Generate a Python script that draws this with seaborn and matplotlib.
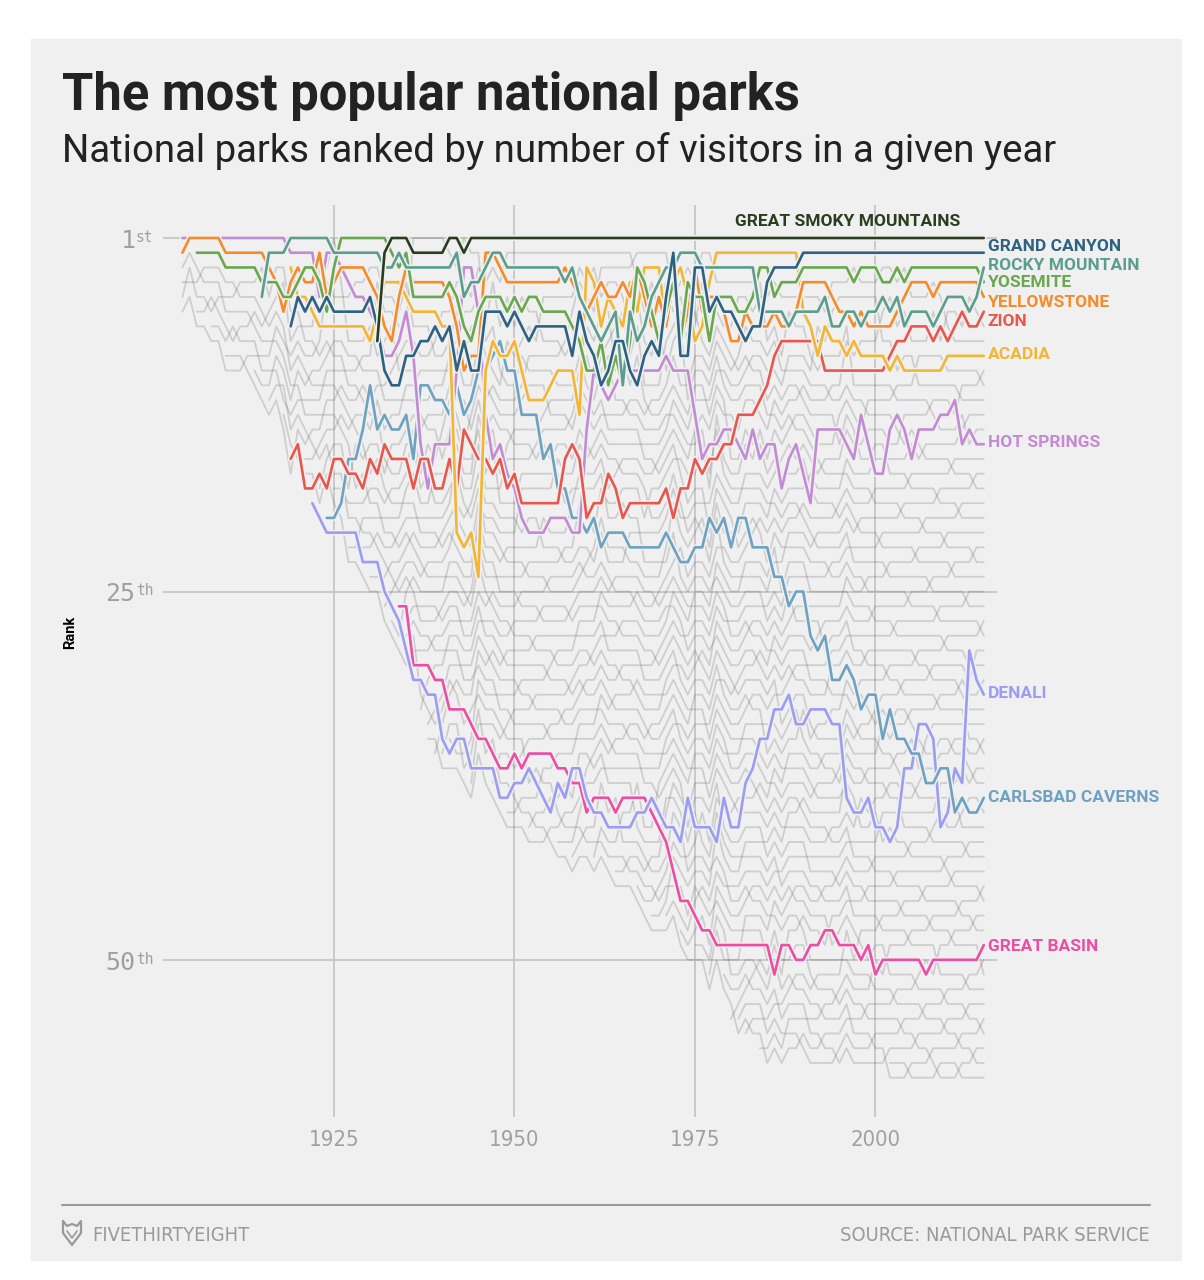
import matplotlib
matplotlib.use("Agg")
import matplotlib.pyplot as plt
import matplotlib.patheffects as pe
import matplotlib.transforms as mtransforms
from matplotlib import font_manager
from matplotlib.lines import Line2D
from matplotlib.patches import Rectangle
import pandas as pd
import seaborn as sns

FIRST_YEAR = 1904
LAST_YEAR = 2015

# ranks, one value per year from the park's first year
HOT_SPRINGS_START = 1904
HOT_SPRINGS = [
    1, 1, 1, 1, 1, 1,
    1, 1, 1, 1, 1, 1, 1, 1, 1, 2,
    2, 2, 2, 5, 2, 2, 3, 4, 5, 5,
    6, 7, 9, 9, 8, 6, 9, 15, 18, 15,
    15, 15, 10, 3, 3, 6, 13, 16, 15, 17,
    18, 20, 21, 21, 21, 20, 20, 20, 21, 21,
    14, 10, 11, 12, 11, 10, 10, 10, 10, 10,
    10, 9, 10, 10, 10, 13, 16, 15, 15, 14,
    14, 15, 16, 14, 16, 15, 15, 18, 16, 15,
    17, 19, 14, 14, 14, 14, 15, 16, 13, 15,
    17, 17, 14, 13, 14, 16, 14, 14, 14, 13,
    13, 12, 15, 14, 15, 15,
]

YELLOWSTONE_START = 1904
YELLOWSTONE = [
    2, 1, 1, 1, 1, 1,
    2, 2, 2, 2, 2, 2, 3, 4, 6, 4,
    3, 4, 4, 2, 5, 4, 3, 3, 3, 3,
    4, 5, 7, 8, 5, 3, 4, 4, 4, 4,
    4, 5, 7, 10, 9, 9, 2, 2, 3, 4,
    4, 4, 4, 4, 4, 4, 4, 3, 4, 5,
    6, 5, 4, 5, 5, 4, 5, 3, 5, 7,
    5, 7, 4, 8, 6, 3, 6, 5, 5, 6,
    8, 8, 6, 7, 7, 7, 6, 7, 7, 6,
    4, 4, 4, 4, 5, 6, 6, 7, 6, 7,
    7, 7, 7, 6, 5, 4, 4, 4, 5, 4,
    4, 4, 4, 4, 4, 5,
]

YOSEMITE_START = 1906
YOSEMITE = [
    2, 2, 2, 2,
    3, 3, 3, 3, 3, 4, 4, 4, 5, 5,
    4, 3, 3, 4, 6, 3, 1, 1, 1, 1,
    1, 1, 1, 2, 3, 2, 5, 5, 5, 5,
    5, 4, 5, 7, 8, 6, 5, 5, 5, 6,
    5, 6, 5, 5, 6, 6, 6, 6, 7, 8,
    10, 10, 8, 11, 9, 11, 8, 3, 4, 6,
    8, 6, 4, 8, 4, 5, 5, 8, 5, 5,
    5, 6, 6, 5, 3, 3, 5, 4, 4, 4,
    3, 3, 3, 3, 3, 3, 3, 4, 3, 3,
    3, 4, 4, 3, 4, 3, 3, 3, 3, 3,
    3, 3, 3, 3, 3, 4,
]

ROCKY_MOUNTAIN_START = 1915
ROCKY_MOUNTAIN = [
    5, 2, 2, 2, 1,
    1, 1, 1, 1, 1, 2, 2, 2, 2, 2,
    2, 2, 3, 3, 2, 3, 3, 3, 3, 3,
    3, 3, 2, 5, 4, 4, 3, 2, 2, 3,
    3, 3, 3, 3, 3, 3, 3, 4, 3, 5,
    6, 7, 8, 7, 6, 11, 6, 8, 7, 5,
    4, 3, 3, 2, 2, 2, 3, 3, 3, 3,
    3, 3, 3, 3, 6, 6, 6, 6, 7, 6,
    6, 6, 6, 5, 7, 7, 6, 6, 7, 6,
    6, 5, 6, 5, 7, 6, 6, 6, 7, 6,
    5, 5, 5, 6, 5, 3,
]

GRAND_CANYON_START = 1919
GRAND_CANYON = [
    7,
    5, 6, 5, 6, 5, 6, 6, 6, 6, 6,
    5, 7, 10, 11, 11, 9, 9, 8, 8, 7,
    8, 7, 10, 8, 10, 10, 6, 6, 6, 7,
    6, 7, 8, 7, 7, 7, 7, 7, 9, 6,
    8, 9, 11, 10, 8, 8, 10, 11, 9, 8,
    9, 5, 2, 9, 9, 3, 3, 6, 5, 6,
    6, 7, 8, 7, 7, 4, 3, 3, 3, 3,
    2, 2, 2, 2, 2, 2, 2, 2, 2, 2,
    2, 2, 2, 2, 2, 2, 2, 2, 2, 2,
    2, 2, 2, 2, 2, 2,
]

ACADIA_START = 1919
ACADIA = [
    3,
    5, 5, 6, 7, 7, 7, 7, 7, 7, 7,
    8, 6, 4, 4, 4, 5, 6, 6, 6, 6,
    7, 7, 21, 22, 21, 24, 10, 8, 9, 9,
    8, 10, 12, 12, 12, 11, 10, 10, 10, 13,
    3, 4, 7, 5, 6, 7, 4, 6, 3, 3,
    3, 7, 4, 3, 5, 8, 7, 4, 2, 2,
    2, 2, 2, 2, 2, 2, 2, 2, 2, 2,
    6, 7, 9, 7, 8, 8, 9, 8, 9, 9,
    9, 9, 10, 9, 10, 10, 10, 10, 10, 10,
    9, 9, 9, 9, 9, 9,
]

ZION_START = 1919
ZION = [
    16,
    15, 18, 18, 17, 18, 16, 16, 17, 17, 18,
    16, 17, 15, 16, 16, 16, 18, 16, 16, 18,
    18, 16, 18, 14, 15, 16, 16, 17, 16, 18,
    17, 19, 19, 19, 19, 19, 19, 16, 15, 16,
    20, 19, 19, 17, 18, 20, 19, 19, 19, 19,
    19, 18, 20, 18, 18, 16, 17, 16, 16, 15,
    15, 13, 13, 13, 12, 11, 9, 8, 8, 8,
    8, 8, 8, 10, 10, 10, 10, 10, 10, 10,
    10, 10, 9, 8, 8, 7, 7, 7, 8, 7,
    8, 7, 6, 7, 7, 6,
]

DENALI_START = 1922
DENALI = [
    19, 20, 21, 21, 21, 21, 21, 23,
    23, 23, 25, 26, 27, 29, 31, 31, 32, 32,
    35, 36, 35, 35, 37, 37, 37, 37, 39, 39,
    38, 38, 37, 38, 39, 40, 38, 39, 37, 37,
    39, 40, 40, 41, 41, 41, 41, 40, 40, 39,
    40, 41, 41, 42, 39, 41, 41, 41, 42, 39,
    41, 41, 38, 37, 35, 35, 33, 33, 32, 34,
    34, 33, 33, 33, 34, 34, 39, 40, 40, 39,
    41, 41, 42, 41, 37, 37, 34, 34, 35, 41,
    40, 37, 38, 29, 31, 32,
]

CARLSBAD_CAVERNS_START = 1924
CARLSBAD_CAVERNS = [
    20, 20, 19, 16, 16, 14,
    11, 14, 13, 14, 14, 13, 16, 11, 11, 12,
    12, 13, 11, 13, 12, 10, 10, 9, 8, 10,
    10, 13, 13, 13, 16, 15, 18, 18, 20, 20,
    21, 20, 22, 21, 21, 21, 22, 22, 22, 22,
    22, 21, 22, 23, 23, 22, 22, 20, 21, 20,
    22, 20, 20, 22, 22, 22, 24, 24, 26, 25,
    25, 28, 29, 28, 31, 31, 30, 31, 33, 32,
    32, 35, 33, 35, 35, 36, 36, 38, 38, 37,
    37, 40, 39, 40, 40, 39,
]

GREAT_SMOKY_START = 1931
GREAT_SMOKY = [
    8, 2, 1, 1, 1, 2, 2, 2, 2,
    2, 1, 1, 2, 1, 1, 1, 1, 1, 1,
    1, 1, 1, 1, 1, 1, 1, 1, 1, 1,
    1, 1, 1, 1, 1, 1, 1, 1, 1, 1,
    1, 1, 1, 1, 1, 1, 1, 1, 1, 1,
    1, 1, 1, 1, 1, 1, 1, 1, 1, 1,
    1, 1, 1, 1, 1, 1, 1, 1, 1, 1,
    1, 1, 1, 1, 1, 1, 1, 1, 1, 1,
    1, 1, 1, 1, 1, 1,
]

GREAT_BASIN_START = 1934
GREAT_BASIN = [
    26, 26, 30, 30, 30, 31,
    31, 33, 33, 33, 34, 35, 35, 36, 37, 37,
    36, 37, 36, 36, 36, 36, 37, 37, 38, 38,
    40, 39, 39, 39, 40, 39, 39, 39, 39, 40,
    41, 42, 44, 46, 46, 47, 48, 48, 49, 49,
    49, 49, 49, 49, 49, 49, 51, 49, 49, 50,
    50, 49, 49, 48, 48, 49, 49, 49, 50, 49,
    51, 50, 50, 50, 50, 50, 50, 51, 50, 50,
    50, 50, 50, 50, 50, 49,
]

# year each of the other (grey) parks first shows up at the bottom
GRAY_START_YEARS = [
    1904, 1904, 1904, 1904, 1906, 1908, 1910, 1914, 1916, 1918,
    1921, 1923, 1925, 1927, 1929, 1930, 1932, 1933, 1935, 1935,
    1936, 1937, 1938, 1938, 1939, 1940, 1941, 1944, 1947, 1949,
    1952, 1956, 1958, 1961, 1964, 1967, 1969, 1971, 1973, 1975,
    1977, 1979, 1980, 1981, 1982, 1984, 2002,
]

# neighbouring grey parks that trade places in a given year (position in grey order)
GRAY_SWAPS = {
    1905: [1], 1906: [1, 3], 1907: [0], 1908: [2, 4], 1909: [2],
    1910: [1, 5], 1911: [3], 1912: [3, 0], 1913: [5], 1914: [2, 6],
    1915: [4], 1916: [1, 7], 1917: [3, 5], 1918: [6, 8], 1919: [2, 6],
    1920: [4, 8], 1921: [0, 5, 9], 1922: [3, 7], 1923: [1, 8, 10], 1924: [4, 6],
    1925: [2, 9, 11], 1926: [5, 7], 1927: [0, 3, 10, 12], 1928: [6, 8],
    1929: [2, 4, 11, 13], 1930: [7, 9, 14], 1931: [1, 5, 12], 1932: [3, 10, 15],
    1933: [6, 8, 13, 16], 1934: [2, 11, 14], 1935: [4, 9, 17, 18],
    1936: [0, 7, 12, 15], 1937: [3, 10, 19, 16], 1938: [5, 13, 20, 22],
    1939: [1, 8, 18, 21], 1940: [6, 11, 16, 23, 24], 1941: [3, 14, 19, 25],
    1942: [9, 12, 22], 1943: [2, 17, 20, 24], 1944: [5, 10, 15, 26],
    1945: [7, 13, 21, 23], 1946: [0, 11, 18, 25], 1947: [4, 16, 20, 27],
    1948: [8, 14, 22, 26], 1949: [2, 12, 19, 24, 28], 1950: [6, 17, 23],
    1951: [10, 15, 21, 27], 1952: [3, 13, 25, 29], 1953: [7, 18, 22, 28],
    1954: [1, 11, 16, 26], 1955: [5, 14, 20, 24, 29], 1956: [9, 19, 27, 30],
    1957: [2, 12, 23, 28], 1958: [6, 16, 21, 31], 1959: [10, 18, 25, 29],
    1960: [4, 14, 22, 30], 1961: [8, 13, 20, 27, 32], 1962: [1, 17, 24, 31],
    1963: [6, 11, 19, 28], 1964: [3, 15, 23, 26, 33], 1965: [9, 18, 21, 30],
    1966: [5, 13, 25, 32], 1967: [0, 16, 22, 29, 34], 1968: [7, 12, 20, 27],
    1969: [4, 10, 24, 31, 35], 1970: [8, 15, 19, 28, 33], 1971: [2, 13, 22, 26, 36],
    1972: [6, 17, 30, 34], 1973: [9, 14, 21, 25, 37], 1974: [3, 11, 18, 29, 32],
    1975: [7, 16, 23, 27, 38], 1976: [1, 12, 20, 31, 35], 1977: [5, 10, 24, 28, 39],
    1978: [8, 15, 19, 33, 36], 1979: [4, 13, 22, 30, 40], 1980: [6, 17, 26, 34, 38],
    1981: [2, 11, 21, 29, 41, 42], 1982: [9, 14, 25, 32, 37],
    1983: [3, 18, 23, 35, 40, 43], 1984: [7, 12, 20, 28, 39],
    1985: [0, 16, 24, 31, 42, 44], 1986: [5, 10, 19, 27, 36],
    1987: [8, 14, 22, 33, 41], 1988: [2, 13, 26, 30, 38, 43],
    1989: [6, 17, 21, 35, 40], 1990: [4, 11, 24, 29, 37, 44],
    1991: [9, 15, 20, 32, 42], 1992: [1, 12, 23, 27, 39],
    1993: [7, 18, 25, 34, 41, 43], 1994: [3, 14, 21, 30, 36],
    1995: [5, 10, 26, 33, 40, 44], 1996: [8, 16, 22, 28, 38],
    1997: [2, 13, 19, 31, 35, 42], 1998: [6, 11, 24, 29, 37],
    1999: [4, 15, 20, 27, 34, 41], 2000: [9, 17, 23, 32, 39, 43],
    2001: [1, 12, 25, 30, 36], 2002: [7, 14, 21, 28, 38, 44, 45],
    2003: [3, 18, 26, 33, 40], 2004: [5, 10, 22, 29, 35, 42],
    2005: [8, 16, 24, 31, 37, 45], 2006: [2, 13, 20, 27, 39, 43],
    2007: [6, 11, 25, 34, 41], 2008: [4, 15, 21, 30, 36, 44],
    2009: [9, 17, 23, 28, 38, 45], 2010: [0, 12, 19, 32, 40, 42],
    2011: [7, 14, 26, 33, 37], 2012: [3, 10, 22, 29, 35, 43, 45],
    2013: [5, 16, 24, 31, 39, 41], 2014: [8, 13, 20, 27, 36, 44],
    2015: [2, 18, 25, 34, 38, 42],
}

YEAR_TICKS = [1925, 1950, 1975, 2000]
RANK_TICKS = [1, 25, 50]
RANK_TICK_NUMS = ["1", "25", "50"]
RANK_TICK_SUFFIX = ["st", "th", "th"]

# drawing order, bottom first
HIGHLIGHTS = [
    ("Great Basin", GREAT_BASIN_START, GREAT_BASIN),
    ("Denali", DENALI_START, DENALI),
    ("Carlsbad Caverns", CARLSBAD_CAVERNS_START, CARLSBAD_CAVERNS),
    ("Hot Springs", HOT_SPRINGS_START, HOT_SPRINGS),
    ("Zion", ZION_START, ZION),
    ("Acadia", ACADIA_START, ACADIA),
    ("Yellowstone", YELLOWSTONE_START, YELLOWSTONE),
    ("Yosemite", YOSEMITE_START, YOSEMITE),
    ("Rocky Mountain", ROCKY_MOUNTAIN_START, ROCKY_MOUNTAIN),
    ("Grand Canyon", GRAND_CANYON_START, GRAND_CANYON),
    ("Great Smoky Mountains", GREAT_SMOKY_START, GREAT_SMOKY),
]

COLORS = {
    "Great Smoky Mountains": "#2a3d1c",
    "Grand Canyon": "#2d6283",
    "Rocky Mountain": "#5c9e8e",
    "Yosemite": "#6aa84f",
    "Yellowstone": "#f58b2b",
    "Zion": "#e8574e",
    "Acadia": "#f2b634",
    "Hot Springs": "#c28bd3",
    "Denali": "#9c9cf3",
    "Carlsbad Caverns": "#6fa2c1",
    "Great Basin": "#ec4ea4",
}

# label placement (rank units), nudged apart like the original
LABEL_Y = {
    "Grand Canyon": 1.55, "Rocky Mountain": 2.85, "Yosemite": 4.05,
    "Yellowstone": 5.35, "Zion": 6.65, "Acadia": 8.9, "Hot Springs": 14.9,
    "Denali": 31.95, "Carlsbad Caverns": 39.0, "Great Basin": 49.1,
}

# ---- build tables ------------------------------------------------------------
hl_rows = []
hl_rank = {}
for name, start, ranks in HIGHLIGHTS:
    if len(ranks) != LAST_YEAR - start + 1:
        print(f"warning: {name} has {len(ranks)} values")
    hl_rank[name] = {start + i: r for i, r in enumerate(ranks)}
    for yr, r in hl_rank[name].items():
        hl_rows.append({"park": name, "year": yr, "rank": r})
hl_df = pd.DataFrame(hl_rows)

gray_rows = []
order = []
for yr in range(FIRST_YEAR, LAST_YEAR + 1):
    order += [i for i, s in enumerate(GRAY_START_YEARS) if s == yr]
    for i in GRAY_SWAPS.get(yr, []):
        if i + 1 < len(order):
            order[i], order[i + 1] = order[i + 1], order[i]
    taken = {d[yr] for d in hl_rank.values() if yr in d}
    n_active = sum(1 for d in hl_rank.values() if yr in d)
    total = len(order) + n_active
    free = [r for r in range(1, total + 1) if r not in taken]
    while len(free) < len(order):
        free.append(max(free + list(taken)) + 1)
    for pid, r in zip(order, free):
        gray_rows.append({"park": pid, "year": yr, "rank": r})
gray_df = pd.DataFrame(gray_rows)

# ---- fonts ------------------------------------------------------------------
sns.set_theme(style="white", rc={"axes.facecolor": "none"})
plt.rcParams["font.family"] = ["Roboto", "DejaVu Sans"]

narrow_files = [
    f.fname for f in font_manager.fontManager.ttflist
    if ("Narrow" in f.name or "Condensed" in f.fname or "Condensed" in f.name)
    and not any(k in f.fname for k in ("Bold", "Italic", "Oblique"))
]


def cond_font(size_narrow, size_plain):
    # condensed face if there is one, otherwise Roboto sized to the same width
    if narrow_files:
        return font_manager.FontProperties(fname=sorted(narrow_files)[0], size=size_narrow)
    return font_manager.FontProperties(family="Roboto", size=size_plain)


# ---- figure -----------------------------------------------------------------
W, H = 1204, 1280
fig = plt.figure(figsize=(W / 100, H / 100), dpi=100)
fig.patch.set_facecolor("white")
fig.add_artist(Rectangle((31 / W, 1 - 1260 / H), 1150 / W, 1221 / H,
                         transform=fig.transFigure, color="#f0f0f0", zorder=0))

ax = fig.add_axes([163 / W, 1 - 1117 / H, 834 / W, 912 / H])

sns.lineplot(data=gray_df, x="year", y="rank", units="park", estimator=None,
             color="#4a4a4a", alpha=0.2, linewidth=1.3, ax=ax, legend=False)
n_gray = len(ax.lines)

sns.lineplot(data=hl_df, x="year", y="rank", hue="park",
             hue_order=[h[0] for h in HIGHLIGHTS], palette=COLORS,
             estimator=None, linewidth=1.9, ax=ax, legend=False)
for line in ax.lines[n_gray:]:
    line.set_path_effects([pe.Stroke(linewidth=4.2, foreground="#f0f0f0"), pe.Normal()])

ax.set_xlim(1901.32, 2016.83)
ax.set_ylim(60.67, -1.24)
ax.set_xticks(YEAR_TICKS)
ax.set_yticks(RANK_TICKS)
ax.set_xticklabels([str(y) for y in YEAR_TICKS])
ax.set_yticklabels([])
for lab in ax.get_xticklabels():
    lab.set_fontproperties(cond_font(15.8, 12.6))
    lab.set_color("#a0a0a0")
ax.tick_params(length=0, pad=9)
ax.grid(True, color="#c9c9c9", linewidth=1.4)
ax.set_axisbelow(True)
for s in ax.spines.values():
    s.set_visible(False)
ax.set_xlabel("")
ax.set_ylabel("")

ytrans = mtransforms.blended_transform_factory(ax.transAxes, ax.transData)
for r, num, suf in zip(RANK_TICKS, RANK_TICK_NUMS, RANK_TICK_SUFFIX):
    ax.text(-0.0330, r + 0.2, num, transform=ytrans, ha="right", va="center",
            fontsize=18, family="DejaVu Sans Mono", color="#a0a0a0", clip_on=False)
    ax.text(-0.0325, r - 0.55, suf, transform=ytrans, ha="left", va="top",
            fontsize=10.5, family="DejaVu Sans Mono", color="#a0a0a0", clip_on=False)

for name, start, ranks in HIGHLIGHTS:
    if name == "Great Smoky Mountains":
        ax.text(2011.8, -0.1, name.upper(), color=COLORS[name], fontsize=12.5,
                fontweight="bold", ha="right", va="center")
    else:
        ax.text(LAST_YEAR + 0.55, LABEL_Y[name], name.upper(), color=COLORS[name],
                fontsize=12.5, fontweight="bold", ha="left", va="center", clip_on=False)

# ---- titles and footer --------------------------------------------------------
fig.text(62 / W, 1 - 110 / H, "The most popular national parks", fontsize=36.5,
         fontweight="bold", color="#222222", va="baseline", ha="left")
fig.text(62 / W, 1 - 162 / H, "National parks ranked by number of visitors in a given year",
         fontsize=27.6, color="#222222", va="baseline", ha="left")
fig.text(70 / W, 1 - 632 / H, "Rank", rotation=90, fontsize=10.5, fontweight="bold",
         color="black", ha="center", va="center")

fig.add_artist(Line2D([62 / W, 1150 / W], [1 - 1205 / H, 1 - 1205 / H],
                      transform=fig.transFigure, color="#9a9a9a", linewidth=1.5))
fig.text(92 / W, 1 - 1241 / H, "FIVETHIRTYEIGHT", fontproperties=cond_font(14.4, 11.4),
         color="#9a9a9a", va="baseline", ha="left")
fig.text(1150 / W, 1 - 1241 / H, "SOURCE: NATIONAL PARK SERVICE",
         fontproperties=cond_font(14.4, 11.4), color="#9a9a9a", va="baseline", ha="right")

logo_x = [63, 67, 72, 77, 81, 81, 72, 63, 63]
logo_y = [1221, 1226, 1224, 1226, 1221, 1233, 1245, 1233, 1221]
fig.add_artist(Line2D([x / W for x in logo_x], [1 - y / H for y in logo_y],
                      transform=fig.transFigure, color="#9a9a9a", linewidth=1.6))
fig.add_artist(Line2D([67 / W, 72 / W, 77 / W], [1 - 1231 / H, 1 - 1238 / H, 1 - 1231 / H],
                      transform=fig.transFigure, color="#9a9a9a", linewidth=1.2))

fig.savefig("out.png", dpi=100, facecolor=fig.get_facecolor())
